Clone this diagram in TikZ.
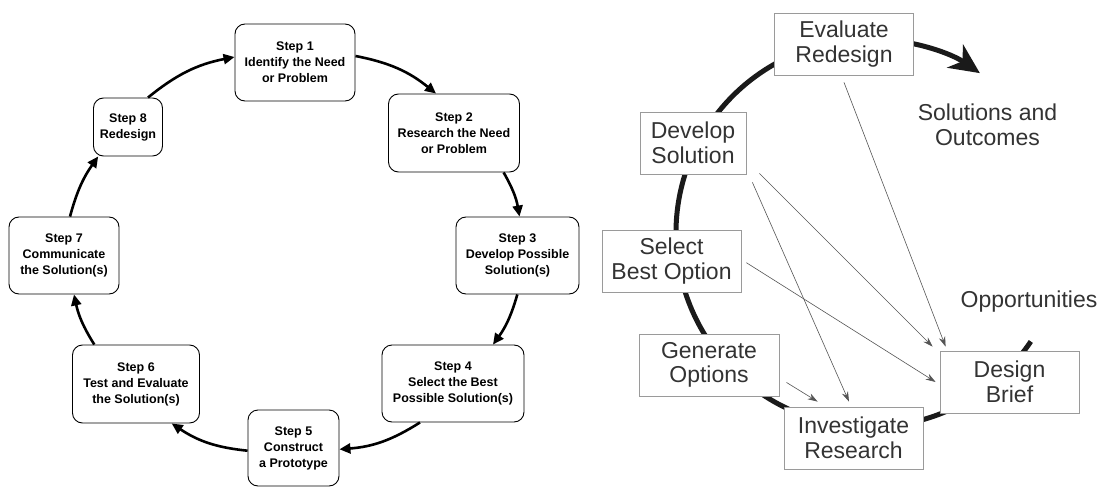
\documentclass[tikz,border=0pt]{standalone}
\usepackage{fontspec}
\setmainfont{Liberation Sans}
\usetikzlibrary{arrows.meta,calc}
\definecolor{txtgray}{HTML}{333333}
\definecolor{boxgray}{HTML}{9A9A9A}
\definecolor{thingray}{HTML}{555555}
\definecolor{arcblack}{HTML}{1A1A1A}
\tikzset{
  stepbox/.style={draw=black, line width=0.9pt, rounded corners=10pt, fill=white,
    align=center, inner sep=0pt, font=\bfseries\fontsize{12.5}{16}\selectfont},
  stepar/.style={line width=2.6pt, -{Triangle[length=11pt,width=10pt]}},
  rbox/.style={draw=boxgray, line width=0.8pt, fill=white, align=center, inner sep=0pt,
    minimum width=139pt, minimum height=62pt, text=txtgray,
    font=\fontsize{23}{24.5}\selectfont},
  rlabel/.style={align=center, text=txtgray, inner sep=0pt, font=\fontsize{23}{24.5}\selectfont},
  thinar/.style={draw=thingray, line width=0.6pt, -{Stealth[length=10pt,width=6.5pt]}}
}
\begin{document}
\begin{tikzpicture}[x=1pt,y=-1pt]
\useasboundingbox[fill=white] (0,0) rectangle (1106,487);

% ---------- Right: big arc (drawn first, behind boxes) ----------
\begin{scope}[shift={(870,233)},x=1pt,y=1pt]
  \draw[arcblack, line width=5pt, -{Stealth[length=30pt,width=28pt,inset=9pt]}]
    (-34:194) arc[start angle=-34, end angle=-304.5, radius=194];
\end{scope}

% ---------- Left: steps ----------
\node[stepbox, minimum width=120pt, minimum height=77pt] (s1) at (295,62.5) {Step 1\\Identify the Need\\or Problem};
\node[stepbox, minimum width=131pt, minimum height=78pt] (s2) at (454,133) {Step 2\\Research the Need\\or Problem};
\node[stepbox, minimum width=123pt, minimum height=77pt] (s3) at (517.5,255.5) {Step 3\\Develop Possible\\Solution(s)};
\node[stepbox, minimum width=142pt, minimum height=77pt] (s4) at (453,383.5) {Step 4\\Select the Best\\Possible Solution(s)};
\node[stepbox, minimum width=91pt, minimum height=76pt] (s5) at (293.5,448) {Step 5\\Construct\\a Prototype};
\node[stepbox, minimum width=127pt, minimum height=78pt] (s6) at (136,384) {Step 6\\Test and Evaluate\\the Solution(s)};
\node[stepbox, minimum width=110pt, minimum height=77pt] (s7) at (64,255.5) {Step 7\\Communicate\\the Solution(s)};
\node[stepbox, minimum width=69pt, minimum height=58pt] (s8) at (128,127) {Step 8\\Redesign};

\draw[stepar] ([xshift=20pt]s8.north) to[bend left=14] ([yshift=5.5pt]s1.west);
\draw[stepar] ([yshift=6.5pt]s1.east) to[bend left=14] ([xshift=-18pt]s2.north);
\draw[stepar] ([xshift=49.6pt]s2.south) to[bend left=10] ([xshift=2pt]s3.north);
\draw[stepar] ([xshift=-0.2pt]s3.south) to[bend left=10] ([xshift=40pt]s4.north);
\draw[stepar] ([xshift=-33pt]s4.south) to[bend left=14] ([yshift=-1.3pt]s5.east);
\draw[stepar] ([yshift=-2.7pt]s5.west) to[bend left=14] ([xshift=35.7pt]s6.south);
\draw[stepar] ([xshift=-41.7pt]s6.north) to[bend left=10] ([xshift=10pt]s7.south);
\draw[stepar] ([xshift=6pt]s7.north) to[bend left=10] ([xshift=-29.8pt]s8.south);

% ---------- Right: boxes ----------
\node[rbox] (ev) at (844,44) {Evaluate\\Redesign};
\node[rbox, minimum width=106pt] (dv) at (693,143) {Develop\\Solution};
\node[rbox] (sb) at (671.5,261) {Select\\Best Option};
\node[rbox, minimum width=140pt] (go) at (709,365) {Generate\\Options};
\node[rbox] (ir) at (853.5,438) {Investigate\\Research};
\node[rbox] (db) at (1009.5,382) {Design\\Brief};

\node[rlabel] (so) at (987.5,125) {Solutions and\\Outcomes};
\node[rlabel] (op) at (1029,301.7) {Opportunities};

% ---------- Right: thin arrows ----------
\draw[thinar] ([yshift=-7pt]ev.south) -- ([xshift=6pt,yshift=4pt]db.north west);
\draw[thinar] ([xshift=13pt,yshift=1pt]dv.south east) -- ([xshift=-7pt,yshift=4pt]db.north west);
\draw[thinar] ([xshift=6pt,yshift=-8pt]dv.south east) -- ([xshift=-4.5pt,yshift=5pt]ir.north);
\draw[thinar] ([xshift=5pt,yshift=-1.7pt]sb.east) -- ([xshift=-4pt]db.west);
\draw[thinar] ([xshift=7pt,yshift=14pt]go.south east) -- ([xshift=34pt,yshift=5pt]ir.north west);
\end{tikzpicture}
\end{document}
